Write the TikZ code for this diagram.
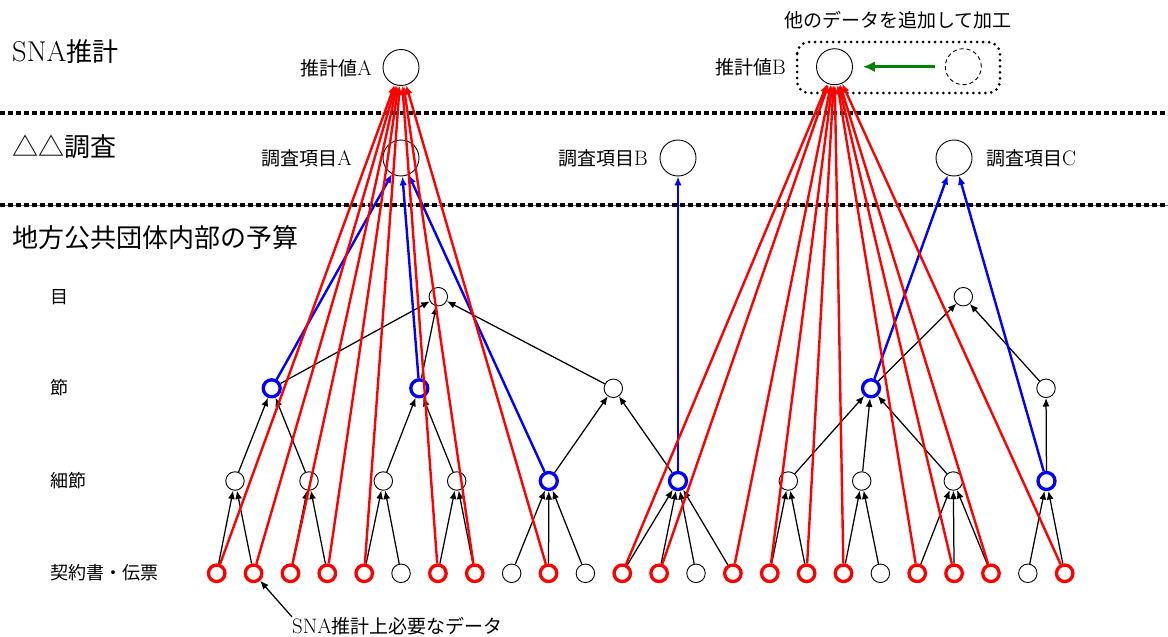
\documentclass[tikz,border=0pt]{standalone}
\usepackage{fontspec}
\setmainfont{Latin Modern Roman}[Scale=1.1]
\newfontfamily\jp{Noto Sans CJK JP}
\usetikzlibrary{arrows.meta}

\begin{document}
\begin{tikzpicture}[x=1pt,y=-1pt,
  big/.style={circle,draw,line width=0.9pt,minimum size=36pt,inner sep=0pt,fill=white},
  dot/.style={circle,draw,line width=0.9pt,minimum size=18.5pt,inner sep=0pt,fill=white},
  rdot/.style={circle,draw=red,line width=3.3pt,minimum size=16.5pt,inner sep=0pt,fill=white},
  bdot/.style={circle,draw=blue,line width=3.3pt,minimum size=17pt,inner sep=0pt,fill=white},
  blk/.style={line width=1.25pt,-{Latex[length=8.5pt,width=7pt]}},
  redl/.style={red,line width=2.4pt,-{Latex[length=9pt,width=7.5pt]}},
  bluel/.style={blue,line width=2.4pt,-{Latex[length=9pt,width=7.5pt]}},
  head/.style={font=\fontsize{26}{30}\selectfont, inner sep=0pt, anchor=west},
  lab/.style={font=\fontsize{19}{22}\selectfont, inner sep=0pt},
  rowlab/.style={font=\fontsize{18}{21}\selectfont\jp, inner sep=0pt, anchor=west},
  sep/.style={line width=3.5pt, dash pattern=on 4.5pt off 3.5pt}
]
\useasboundingbox (0,0) rectangle (1168,637);

% layer separators
\draw[sep] (0,113) -- (1168,113);
\draw[black!55, line width=0.8pt] (0,205) -- (1168,205);
\draw[sep] (0,205) -- (1168,205);

% layer headings
\node[head] (hSNA) at (12,52) {SNA{\jp 推計}};
\node[head] (hSurvey) at (12,147) {\jp △△調査};
\node[head] (hBudget) at (12,238) {\jp 地方公共団体内部の予算};

% row labels
\node[rowlab] (rMoku) at (50,297) {目};
\node[rowlab] (rSetsu) at (50,388) {節};
\node[rowlab] (rSaisetsu) at (50,481) {細節};
\node[rowlab] (rDenpyo) at (50,573) {契約書・伝票};

% estimates and survey items
\node[big] (A) at (401,67.5) {};
\node[big] (B) at (834.5,66.7) {};
\node[big, dash pattern=on 4pt off 3pt] (D) at (963.3,66.7) {};
\node[big] (QA) at (401,158) {};
\node[big] (QB) at (678,158) {};
\node[big] (QC) at (954,158) {};

\node[lab, anchor=east] (lA) at (372,68) {{\jp 推計値}A};
\node[lab, anchor=east] (lB) at (786,67) {{\jp 推計値}B};
\node[lab, anchor=east] (lQA) at (352,158) {{\jp 調査項目}A};
\node[lab, anchor=east] (lQB) at (648,158) {{\jp 調査項目}B};
\node[lab, anchor=west] (lQC) at (986,158) {{\jp 調査項目}C};
\node[lab] (lAdd) at (898,20) {\jp 他のデータを追加して加工};

\draw[line width=3pt, dash pattern=on 0pt off 6pt, line cap=round, rounded corners=12pt]
  (797,42) rectangle (1000,93);
\draw[green!50!black, line width=3pt, -{Latex[length=12pt,width=11pt]},
  shorten >=10pt, shorten <=10pt] (D) -- (B);

% budget hierarchy
\node[dot]  (m1) at (438.3,296.7) {};
\node[dot]  (m2) at (963.3,296.7) {};

\node[bdot] (s1) at (271.7,388.3) {};
\node[bdot] (s2) at (419.3,388.3) {};
\node[dot]  (s3) at (613.3,388.3) {};
\node[bdot] (s4) at (871,388.3) {};
\node[dot]  (s5) at (1046,388.3) {};

\node[dot]  (c1) at (235,481) {};
\node[dot]  (c2) at (309,481) {};
\node[dot]  (c3) at (383.3,481) {};
\node[dot]  (c4) at (456.7,481) {};
\node[bdot] (c5) at (548.8,481) {};
\node[bdot] (c6) at (678,481) {};
\node[dot]  (c7) at (788.3,481) {};
\node[dot]  (c8) at (861.7,481) {};
\node[dot]  (c9) at (953.3,481) {};
\node[bdot] (c10) at (1046.5,481) {};

\foreach \i/\s in {0/rdot,1/rdot,2/rdot,3/rdot,4/rdot,5/dot,6/rdot,7/rdot,8/dot,9/rdot,10/dot,11/rdot,
                   12/rdot,13/dot,14/rdot,15/rdot,16/rdot,17/rdot,18/dot,19/rdot,20/rdot,21/rdot,22/dot,23/rdot}
  \node[\s] (b\i) at ({216.7+36.87*\i},573.3) {};

\foreach \a/\b in {b0/c1,b1/c1,b2/c2,b3/c2,b4/c3,b5/c3,b6/c4,b7/c4,b8/c5,b9/c5,b10/c5,
                   b11/c6,b12/c6,b13/c6,b14/c6,b15/c7,b16/c7,b17/c8,b18/c8,b19/c9,b20/c9,b21/c9,
                   b22/c10,b23/c10,c1/s1,c2/s1,c3/s2,c4/s2,c5/s3,c6/s3,c7/s4,c8/s4,c9/s4,c10/s5,
                   s1/m1,s2/m1,s3/m1,s4/m2,s5/m2}
  \draw[blk] (\a) -- (\b);

% items taken up by the survey
\foreach \a/\b in {s1/QA,s2/QA,c5/QA,c6/QB,s4/QC,c10/QC}
  \draw[bluel] (\a) -- (\b);

% records needed for the estimates
\foreach \a in {b0,b1,b2,b3,b4,b6,b7,b9}
  \draw[redl] (\a) -- (A);
\foreach \a in {b11,b12,b14,b15,b16,b17,b19,b20,b21,b23}
  \draw[redl] (\a) -- (B);

\node[lab, anchor=west] (note) at (292,626) {SNA{\jp 推計上必要なデータ}};
\draw[blk] (note.north west) -- (b1);
\end{tikzpicture}
\end{document}
